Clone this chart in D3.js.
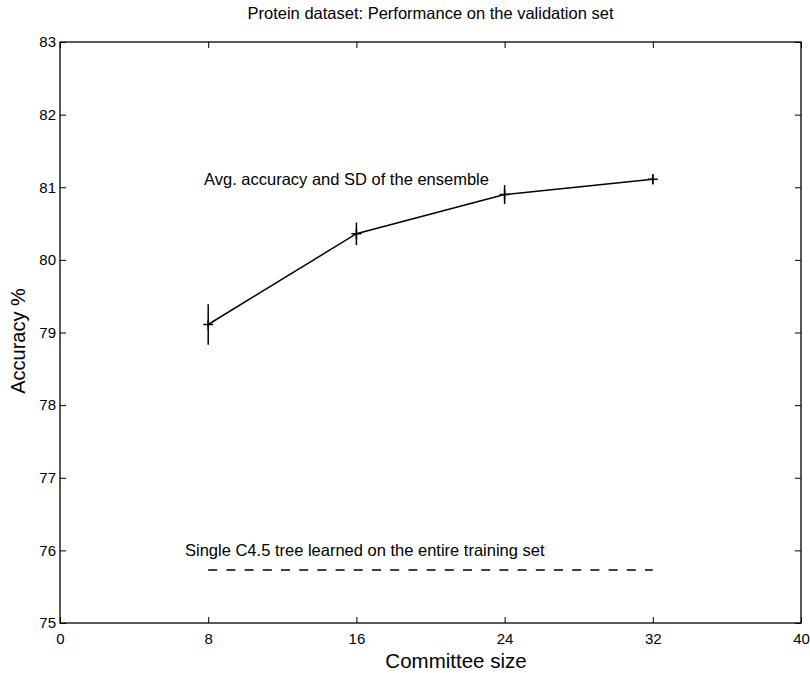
<!DOCTYPE html>
<html><head><meta charset="utf-8">
<script src="https://cdn.jsdelivr.net/npm/d3@7"></script>
<style>body{margin:0;background:#fff}svg{display:block}text{font-family:"Liberation Sans",Arial,Helvetica,sans-serif;fill:#000}</style>
</head><body>
<script>
const committeeSizes = [8, 16, 24, 32];
const avgAccuracy = [79.11, 80.36, 80.90, 81.11];
const sdAccuracy = [0.28, 0.155, 0.13, 0.07];
const singleTreeAccuracy = 75.73;
const singleTreeRange = [8, 32];
const xTicks = [0, 8, 16, 24, 32, 40];
const yTicks = [75, 76, 77, 78, 79, 80, 81, 82, 83];
const titleText = "Protein dataset: Performance on the validation set";
const xLabelText = "Committee size";
const yLabelText = "Accuracy %";
const ensembleLabel = "Avg. accuracy and SD of the ensemble";
const treeLabel = "Single C4.5 tree learned on the entire training set";

const W = 810, H = 673;
const m = {left: 60, right: 9, top: 42, bottom: 50};
const svg = d3.select("body").append("svg").attr("width", W).attr("height", H);
const x = d3.scaleLinear().domain([0, 40]).range([m.left, W - m.right]);
const y = d3.scaleLinear().domain([75, 83]).range([H - m.bottom, m.top]);
const tl = 6;

const g = svg.append("g");
g.append("rect").attr("x", x(0)).attr("y", y(83)).attr("width", x(40) - x(0)).attr("height", y(75) - y(83))
  .attr("fill", "none").attr("stroke", "#000").attr("stroke-width", 1.3);

const xb = g.append("g").attr("transform", `translate(0,${y(75)})`)
  .call(d3.axisBottom(x).tickValues(xTicks).tickSize(-tl).tickPadding(10).tickFormat(d3.format("d")));
const xt = g.append("g").attr("transform", `translate(0,${y(83)})`)
  .call(d3.axisTop(x).tickValues(xTicks).tickSize(-tl).tickFormat(""));
const yl = g.append("g").attr("transform", `translate(${x(0)},0)`)
  .call(d3.axisLeft(y).tickValues(yTicks).tickSize(-tl).tickPadding(4).tickFormat(d3.format("d")));
const yr = g.append("g").attr("transform", `translate(${x(40)},0)`)
  .call(d3.axisRight(y).tickValues(yTicks).tickSize(-tl).tickFormat(""));
[xb, xt, yl, yr].forEach(a => {
  a.select(".domain").remove();
  a.selectAll("line").attr("stroke", "#000").attr("stroke-width", 1);
  a.selectAll("text").attr("font-size", 15).style("font-family", '"Liberation Sans",Arial,sans-serif');
});

const line = d3.line().x((d, i) => x(committeeSizes[i])).y(d => y(d));
g.append("path").datum(avgAccuracy).attr("d", line).attr("fill", "none").attr("stroke", "#000").attr("stroke-width", 1.5);

g.selectAll(".eb").data(committeeSizes).enter().append("line")
  .attr("x1", d => x(d)).attr("x2", d => x(d))
  .attr("y1", (d, i) => y(avgAccuracy[i] - sdAccuracy[i]))
  .attr("y2", (d, i) => y(avgAccuracy[i] + sdAccuracy[i]))
  .attr("stroke", "#000").attr("stroke-width", 1.5);
g.selectAll(".mk").data(committeeSizes).enter().append("path")
  .attr("d", (d, i) => { const cx = x(d), cy = y(avgAccuracy[i]); return `M${cx-5},${cy}H${cx+5}M${cx},${cy-5}V${cy+5}`; })
  .attr("stroke", "#000").attr("stroke-width", 1.5);

g.append("line").attr("x1", x(singleTreeRange[0])).attr("x2", x(singleTreeRange[1]))
  .attr("y1", y(singleTreeAccuracy)).attr("y2", y(singleTreeAccuracy))
  .attr("stroke", "#000").attr("stroke-width", 1.3).attr("stroke-dasharray", "9,9.2");

g.append("text").attr("x", 204).attr("y", 185).attr("font-size", 16.5).text(ensembleLabel);
g.append("text").attr("x", 185).attr("y", 556).attr("font-size", 16.5).text(treeLabel);

svg.append("text").attr("x", (x(0) + x(40)) / 2).attr("y", 19).attr("text-anchor", "middle").attr("font-size", 16.5).text(titleText);
svg.append("text").attr("x", 456).attr("y", H - 5).attr("text-anchor", "middle").attr("font-size", 20.5).text(xLabelText);
svg.append("text").attr("transform", `translate(25,341) rotate(-90)`).attr("text-anchor", "middle").attr("font-size", 20).text(yLabelText);
</script>
</body></html>
